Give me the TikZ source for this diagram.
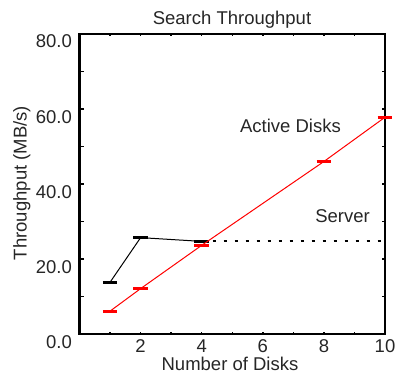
\documentclass[tikz,border=0pt]{standalone}
\usepackage{fontspec}
\setmainfont{Liberation Sans}
\begin{document}
\begin{tikzpicture}[x=1pt,y=1pt,
  lbl/.style={font=\fontsize{18.5}{20}\selectfont, inner sep=0pt, text=black!85},
  frame/.style={line width=2.6pt, line cap=rect},
  tickmark/.style={line width=1.4pt},
  series/.style={line width=1pt},
  ebar/.style={line width=3pt},
  flat/.style={line width=2pt, dash pattern=on 3.5pt off 7.5pt}]
\useasboundingbox (0,0) rectangle (395,373);
\node[lbl, anchor=base] (title) at (232,348) {Search Throughput};
\node[lbl, anchor=base] (xlabel) at (230,3) {Number of Disks};
\node[lbl, anchor=base, rotate=90] (ylabel) at (26.5,190) {Throughput (MB/s)};
\node[lbl, anchor=base] (lblactive) at (290.4,240.7) {Active Disks};
\node[lbl, anchor=base] (lblserver) at (342.5,150.7) {Server};
\begin{scope}[shift={(79.5pt,39pt)}, x=30.55pt, y=3.75pt]
  % frame and ticks
  \draw[frame] (0,0) rectangle (10,80);
  \foreach \v in {10,20,...,70} {
    \draw[tickmark] (0,\v) -- ++(4pt,0);
    \draw[tickmark] (10,\v) -- ++(-3pt,0);
  }
  \foreach \u in {1,...,9} {
    \draw[tickmark] (\u,0) -- ++(0,2.5pt);
    \draw[tickmark] (\u,80) -- ++(0,-2.5pt);
  }
  \foreach \v in {0,20,40,60,80}
    \node[lbl, anchor=base east] (ytick\v) at ([xshift=-7.5pt,yshift=-14pt]0,\v) {\v.0};
  \foreach \u in {2,4,6,8,10}
    \node[lbl, anchor=base] (xtick\u) at ([yshift=-18pt]\u,0) {\u};
  % data points
  \coordinate (r1) at (1,6.1);
  \coordinate (r2) at (2,12.1);
  \coordinate (r4) at (4,23.65);
  \coordinate (r8) at (8,46.0);
  \coordinate (r10) at (10,57.8);
  \coordinate (s1) at (1,13.8);
  \coordinate (s2) at (2,25.7);
  \coordinate (s4) at (4,24.7);
  \coordinate (s10) at (10,24.7);
  % server series
  \draw[series, black] (s1) -- (s2) -- (s4);
  \draw[flat, black] (s4) -- (s10);
  \foreach \p in {s1,s2,s4}
    \draw[ebar, black] ([xshift=-7.3pt]\p) -- ([xshift=7.3pt]\p);
  % active disks series
  \draw[series, red] (r1) -- (r2) -- (r4) -- (r8) -- (r10);
  \foreach \p in {r1,r2,r4,r8,r10}
    \draw[ebar, red] ([xshift=-7.3pt]\p) -- ([xshift=7.3pt]\p);
\end{scope}
\end{tikzpicture}
\end{document}
